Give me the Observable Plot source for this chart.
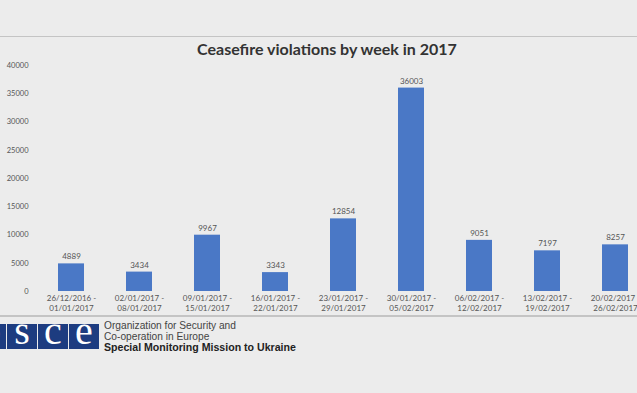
<!DOCTYPE html>
<html>
<head>
<meta charset="utf-8">
<script src="https://cdn.jsdelivr.net/npm/d3@7"></script>
<script src="https://cdn.jsdelivr.net/npm/@observablehq/plot@0.6"></script>
<style>
  html, body { margin: 0; padding: 0; background: #ececec; overflow: hidden; width: 637px; height: 393px; }
  #wrap { position: relative; width: 637px; height: 393px; }
  .hline { position: absolute; left: 0; width: 637px; background: #c4c4c4; }
  #title { position: absolute; left: 0; width: 654px; top: 39px; text-align: center;
           font: bold 16px Lato, sans-serif; color: #333; }
  #chart { position: absolute; left: 0; top: 60px; }
  .box { position: absolute; top: 324px; height: 25px; width: 30px; background: #1d3c80; overflow: hidden; }
  .box svg { display: block; }
  .box text { fill: #fff; font: 40px "Liberation Serif", serif; }
  #org { position: absolute; left: 104px; top: 321px; font: 10.2px "Liberation Sans", Arial, sans-serif;
         line-height: 10.6px; color: #444; }
  #org b { color: #222; font-size: 10.6px; }
</style>
</head>
<body>
<div id="wrap">
  <div class="hline" style="top:36px;height:1px"></div>
  <div class="hline" style="top:315px;height:2px"></div>
  <div id="title">Ceasefire violations by week in 2017</div>
  <div id="chart"></div>
  <div class="box" style="left:-24px"><svg width="30" height="25"><text x="15" y="20" text-anchor="middle">o</text></svg></div>
  <div class="box" style="left:7px"><svg width="30" height="25"><text x="15" y="20" text-anchor="middle">s</text></svg></div>
  <div class="box" style="left:38px"><svg width="30" height="25"><text x="15" y="20" text-anchor="middle">c</text></svg></div>
  <div class="box" style="left:69px"><svg width="30" height="25"><text x="15" y="20" text-anchor="middle">e</text></svg></div>
  <div id="org">Organization for Security and<br>Co-operation in Europe<br><b>Special Monitoring Mission to Ukraine</b></div>
</div>
<script>
const weeks = [
  "26/12/2016 -\n01/01/2017",
  "02/01/2017 -\n08/01/2017",
  "09/01/2017 -\n15/01/2017",
  "16/01/2017 -\n22/01/2017",
  "23/01/2017 -\n29/01/2017",
  "30/01/2017 -\n05/02/2017",
  "06/02/2017 -\n12/02/2017",
  "13/02/2017 -\n19/02/2017",
  "20/02/2017 -\n26/02/2017"
];
const violations = [4889, 3434, 9967, 3343, 12854, 36003, 9051, 7197, 8257];
const yTicks = [0, 5000, 10000, 15000, 20000, 25000, 30000, 35000, 40000];

const data = weeks.map((w, i) => ({week: w, value: violations[i]}));

const chart = Plot.plot({
  width: 637,
  height: 260,
  marginTop: 5,
  marginBottom: 29,
  marginLeft: 37,
  marginRight: 0,
  style: {background: "transparent", fontFamily: "Lato, sans-serif", overflow: "visible"},
  x: {domain: weeks, range: [37, 649], paddingInner: 0.62, paddingOuter: 0.31},
  y: {domain: [0, 40000]},
  marks: [
    Plot.ruleY(yTicks, {y: d => d, x1: 37, x2: 637, stroke: "#c9c9c9", strokeWidth: 1}),
    Plot.ruleX([0], {x1: 37, x2: 37, y1: 0, y2: 40000, stroke: "#c9c9c9"}),
    Plot.barY(data, {x: "week", y: "value", fill: "#4a78c6"}),
    Plot.text(data, {x: "week", y: "value", text: d => String(d.value), dy: -7, fontSize: 8, fill: "#555"}),
    Plot.axisY({ticks: yTicks, tickSize: 0, tickPadding: 9, fontSize: 7.5, tickFormat: d => String(d), color: "#555", label: null}),
    Plot.axisX({tickSize: 0, tickPadding: 3, fontSize: 8, lineHeight: 1.2, color: "#555", label: null})
  ]
});
document.getElementById("chart").appendChild(chart);
</script>
</body>
</html>
